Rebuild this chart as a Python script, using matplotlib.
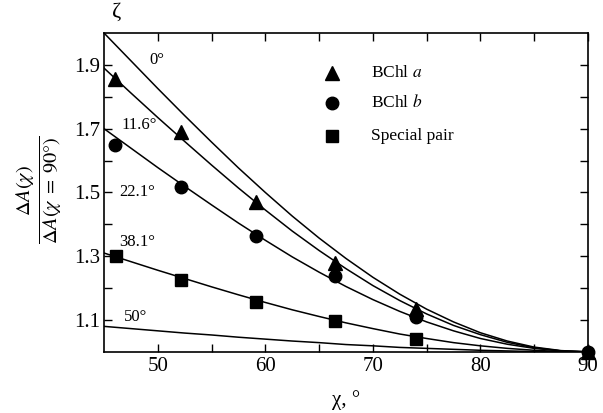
import matplotlib
matplotlib.use("Agg")
import matplotlib.pyplot as plt
from matplotlib.ticker import FixedLocator

plt.rcParams['font.family'] = ['Liberation Serif', 'DejaVu Serif']
plt.rcParams['mathtext.fontset'] = 'stix'

# theory curves, every 2.5 degrees
chi = [45, 47.5, 50, 52.5, 55, 57.5, 60, 62.5, 65, 67.5, 70, 72.5, 75, 77.5, 80, 82.5, 85, 87.5, 90]
curves = {
    "0°":    [2.000, 1.913, 1.826, 1.741, 1.658, 1.577, 1.500, 1.426, 1.357, 1.293, 1.234, 1.181, 1.134, 1.094, 1.060, 1.034, 1.015, 1.004, 1.000],
    "11.6°": [1.890, 1.812, 1.735, 1.660, 1.586, 1.514, 1.445, 1.379, 1.318, 1.261, 1.208, 1.161, 1.119, 1.083, 1.054, 1.030, 1.013, 1.003, 1.000],
    "22.1°": [1.700, 1.639, 1.578, 1.519, 1.461, 1.404, 1.350, 1.298, 1.250, 1.205, 1.164, 1.127, 1.094, 1.066, 1.042, 1.024, 1.011, 1.003, 1.000],
    "38.1°": [1.310, 1.283, 1.256, 1.230, 1.204, 1.179, 1.155, 1.132, 1.111, 1.091, 1.073, 1.056, 1.042, 1.029, 1.019, 1.011, 1.005, 1.001, 1.000],
    "50°":   [1.080, 1.073, 1.066, 1.059, 1.053, 1.046, 1.040, 1.034, 1.029, 1.023, 1.019, 1.014, 1.011, 1.008, 1.005, 1.003, 1.001, 1.000, 1.000],
}

# measured points
chi_pts = [46.0, 52.2, 59.1, 66.5, 74.0, 90.0]
bchl_a = [1.855, 1.69, 1.47, 1.28, 1.135, 1.0]
bchl_b = [1.65, 1.516, 1.363, 1.238, 1.109, 1.0]
chi_sp = [46.1, 52.2, 59.1, 66.5, 74.0]
special = [1.30, 1.225, 1.156, 1.097, 1.041]

fig = plt.figure(figsize=(6.03, 4.13), dpi=100)
ax = fig.add_axes([0.1725, 0.148, 0.8025, 0.772])

for name, vals in curves.items():
    ax.plot(chi, vals, color='black', lw=1.1, zorder=2)

ax.plot(chi_pts, bchl_a, '^', color='black', ms=10, zorder=3, clip_on=False)
ax.plot(chi_pts, bchl_b, 'o', color='black', ms=9, zorder=4, clip_on=False)
ax.plot(chi_sp, special, 's', color='black', ms=8, zorder=3, clip_on=False)

ax.set_xlim(45, 90)
ax.set_ylim(1.0, 2.0)
ax.xaxis.set_major_locator(FixedLocator([50, 60, 70, 80, 90]))
ax.xaxis.set_minor_locator(FixedLocator([55, 65, 75, 85]))
ax.yaxis.set_major_locator(FixedLocator([1.1, 1.3, 1.5, 1.7, 1.9]))
ax.yaxis.set_minor_locator(FixedLocator([1.2, 1.4, 1.6, 1.8]))
ax.tick_params(which='both', direction='in', top=True, right=True,
               length=6, width=1, labelsize=15)
ax.tick_params(axis='x', pad=4)
ax.tick_params(axis='y', pad=3)
for s in ax.spines.values():
    s.set_linewidth(1.2)

# curve labels
lab_pos = {"0°": (49.9, 1.916), "11.6°": (48.3, 1.713), "22.1°": (48.1, 1.50),
           "38.1°": (48.1, 1.344), "50°": (47.9, 1.109)}
for name, (x, y) in lab_pos.items():
    ax.text(x, y, name, fontsize=12, ha='center', va='center')

ax.text(46.2, 2.035, "ζ", fontsize=16, ha='center', va='bottom')

# legend by hand
leg = [('^', 10, r"BChl $a$", 1.875), ('o', 9, r"BChl $b$", 1.781), ('s', 8, "Special pair", 1.678)]
for m, ms, txt, y in leg:
    ax.plot([66.2], [y], m, color='black', ms=ms, clip_on=False)
    ax.text(69.8, y, txt, fontsize=12.5, va='center', ha='left')

ax.set_xlabel("χ, °", fontsize=15, labelpad=10)
fig.text(0.066, 0.54, r"$\frac{\Delta A(\chi)}{\Delta A(\chi\;=\;90°)}$", rotation=90,
         fontsize=21, ha='center', va='center')

fig.savefig("out.png", dpi=100)
